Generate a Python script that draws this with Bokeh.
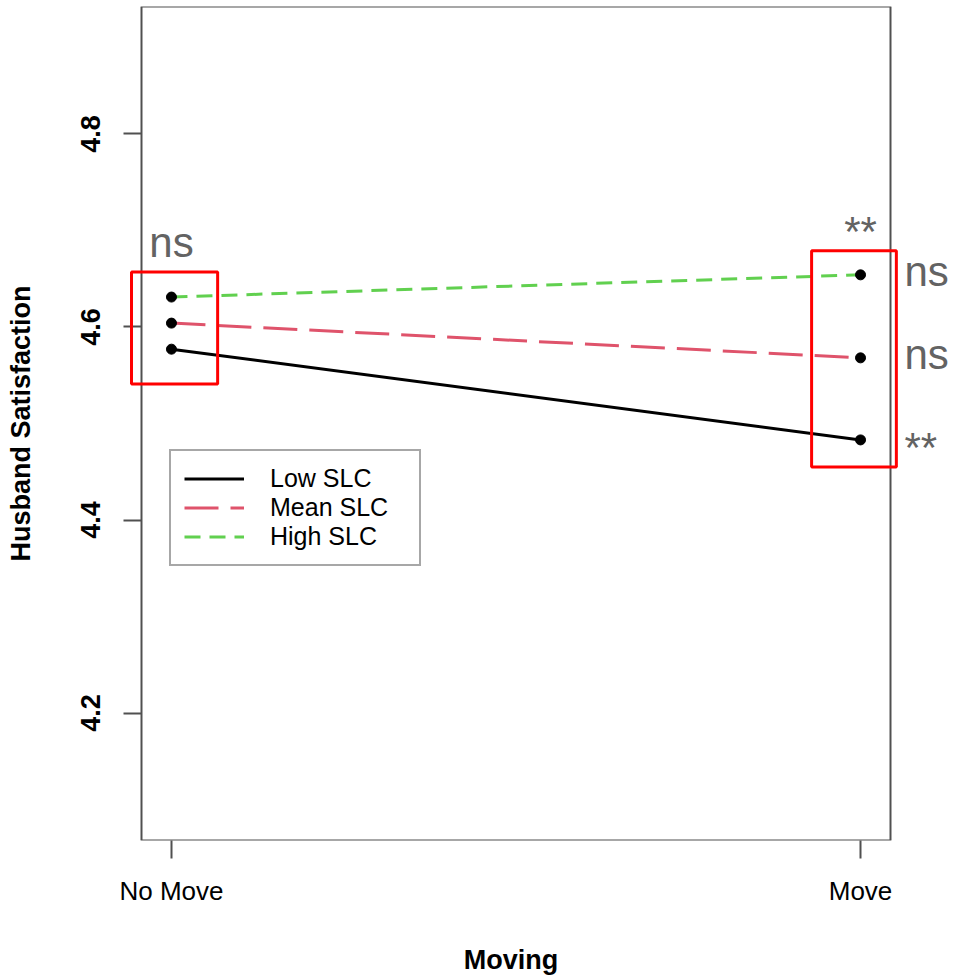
import math
from bokeh.plotting import figure
from bokeh.models import FixedTicker, Label, BoxAnnotation, Legend, LegendItem, Range1d, LinearAxis
from bokeh.embed import file_html
from bokeh.resources import INLINE

# Predicted husband satisfaction by moving status at three levels of SLC
conditions = ["No Move", "Move"]
x_pos = [1, 2]
low_slc = [4.577, 4.483]
mean_slc = [4.604, 4.568]
high_slc = [4.631, 4.654]
series_names = ["Low SLC", "Mean SLC", "High SLC"]
y_ticks = [4.2, 4.4, 4.6, 4.8]

# significance of the simple slopes (right side) and of the group contrasts (top)
slope_marks = {"Low SLC": "**", "Mean SLC": "ns", "High SLC": "ns"}
group_marks = ["ns", "**"]

FONT = "Liberation Sans"
AXIS_GREY = "#505050"
MARK_GREY = "#636363"

# plotting region in data units (R style 4% padding around x 1..2, y 4.1..4.9)
X_LO, X_HI = 0.9565, 2.0435
Y_LO, Y_HI = 4.068, 4.932

BOX_LEFT, BOX_RIGHT, BOX_TOP, BOX_BOTTOM = 141, 890, 6, 840   # pixel extent of the plotting box
TICK_LEN = 18
FRAME_LEFT = BOX_LEFT - TICK_LEN    # frame starts at the end of the y ticks
FRAME_RIGHT = BOX_RIGHT + 8         # a little room for the red box that overhangs the right edge
px_per_x = (BOX_RIGHT - BOX_LEFT) / (X_HI - X_LO)
px_per_y = (BOX_BOTTOM - BOX_TOP) / (Y_HI - Y_LO)
x_left = X_LO - (BOX_LEFT - FRAME_LEFT) / px_per_x
x_right = X_HI + (FRAME_RIGHT - BOX_RIGHT) / px_per_x

p = figure(
    width=959, height=978,
    x_range=Range1d(x_left, x_right), y_range=Range1d(Y_LO, Y_HI),
    output_backend="svg", toolbar_location=None,
    min_border_left=FRAME_LEFT, min_border_right=959 - FRAME_RIGHT,
    min_border_top=BOX_TOP, min_border_bottom=978 - BOX_BOTTOM,
)
p.background_fill_color = "white"
p.border_fill_color = "white"
p.outline_line_color = None
p.xgrid.visible = False
p.ygrid.visible = False

# box around the plotting region
p.add_layout(BoxAnnotation(left=X_LO, right=X_HI, bottom=Y_LO, top=Y_HI,
                           fill_alpha=0, line_color=AXIS_GREY, line_width=2, line_alpha=1))

# x axis
p.xaxis.ticker = FixedTicker(ticks=x_pos)
p.xaxis.major_label_overrides = {x: c for x, c in zip(x_pos, conditions)}
p.xaxis.major_label_text_font = FONT
p.xaxis.major_label_text_font_size = "26px"
p.xaxis.major_label_text_color = "black"
p.xaxis.major_label_standoff = 17
p.xaxis.major_tick_out = TICK_LEN
p.xaxis.major_tick_in = 0
p.xaxis.axis_label = "Moving"
p.xaxis.axis_label_text_font = FONT
p.xaxis.axis_label_text_font_style = "bold"
p.xaxis.axis_label_text_font_size = "27px"
p.xaxis.axis_label_text_color = "black"
p.xaxis.axis_label_standoff = 36

# y axis (ticks drawn inward from the frame edge up to the box)
p.yaxis.ticker = FixedTicker(ticks=y_ticks)
p.yaxis.axis_label = "Husband Satisfaction"
p.yaxis.axis_label_text_font = FONT
p.yaxis.axis_label_text_font_style = "bold"
p.yaxis.axis_label_text_font_size = "27px"
p.yaxis.axis_label_text_color = "black"
p.yaxis.axis_label_standoff = 43
p.yaxis.major_label_orientation = "parallel"
p.yaxis.major_label_text_font = FONT
p.yaxis.major_label_text_font_style = "bold"
p.yaxis.major_label_text_font_size = "27px"
p.yaxis.major_label_text_color = "black"
p.yaxis.major_label_standoff = 23
p.yaxis.major_tick_out = 0
p.yaxis.major_tick_in = TICK_LEN

for ax in (p.xaxis, p.yaxis):
    ax.axis_line_color = None
    ax.major_tick_line_color = AXIS_GREY
    ax.major_tick_line_width = 2
    ax.minor_tick_line_color = None

# lines
styles = {
    "Low SLC": dict(color="black", dash="solid"),
    "Mean SLC": dict(color="#DF536B", dash="34 12"),
    "High SLC": dict(color="#61D04F", dash="16 9"),
}
series = {"Low SLC": low_slc, "Mean SLC": mean_slc, "High SLC": high_slc}

items = []
for name in series_names:
    st = styles[name]
    r = p.line(x_pos, series[name], line_color=st["color"], line_dash=st["dash"], line_width=3)
    items.append(LegendItem(label=name, renderers=[r]))

for name in series_names:
    p.scatter(x_pos, series[name], size=10, fill_color="black", line_color="black")

legend = Legend(
    items=items, location=(169 - FRAME_LEFT, 274), orientation="vertical",
    label_text_font=FONT, label_text_font_size="25px", label_text_color="black",
    label_standoff=26, label_height=29, label_width=136,
    glyph_width=60, glyph_height=29, spacing=0, padding=13, margin=0,
    border_line_color=AXIS_GREY, border_line_width=2,
    background_fill_color="white", background_fill_alpha=1,
)
p.add_layout(legend, "center")

# boxes around the two groups of predicted values
p.add_layout(BoxAnnotation(left=0.942, right=1.067, bottom=4.541, top=4.657,
                           fill_alpha=0, line_color="red", line_width=3, line_alpha=1))
p.add_layout(BoxAnnotation(left=1.929, right=2.052, bottom=4.455, top=4.679,
                           fill_alpha=0, line_color="red", line_width=3, line_alpha=1))

# significance marks for the simple slopes: labels of an unticked right axis,
# level with each Move value (nudged so the glyphs sit centred on the point)
nudge_px = {"ns": 3, "**": -8}
mark_ticks, mark_text = [], {}
for name in series_names:
    mark = slope_marks[name]
    t = round(series[name][1] + nudge_px[mark] / px_per_y, 5)
    mark_ticks.append(t)
    mark_text[t] = mark
mark_axis = LinearAxis(
    ticker=FixedTicker(ticks=mark_ticks), major_label_overrides=mark_text,
    axis_line_color=None, major_tick_line_color=None, minor_tick_line_color=None,
    major_tick_in=0, major_tick_out=0,
    major_label_standoff=6, major_label_orientation="horizontal",
    major_label_text_font=FONT, major_label_text_font_size="42px",
    major_label_text_color=MARK_GREY,
)
p.add_layout(mark_axis, "right")

# significance marks for the group contrasts, above each box
p.add_layout(Label(x=x_pos[0], y=high_slc[0], text=group_marks[0], y_offset=55,
                   text_align="center", text_baseline="alphabetic",
                   text_font=FONT, text_font_size="42px", text_color=MARK_GREY))
p.add_layout(Label(x=x_pos[1], y=high_slc[1], text=group_marks[1], y_offset=43,
                   text_align="center", text_baseline="alphabetic",
                   text_font=FONT, text_font_size="42px", text_color=MARK_GREY))

open("out.html", "w").write(file_html(p, INLINE))
